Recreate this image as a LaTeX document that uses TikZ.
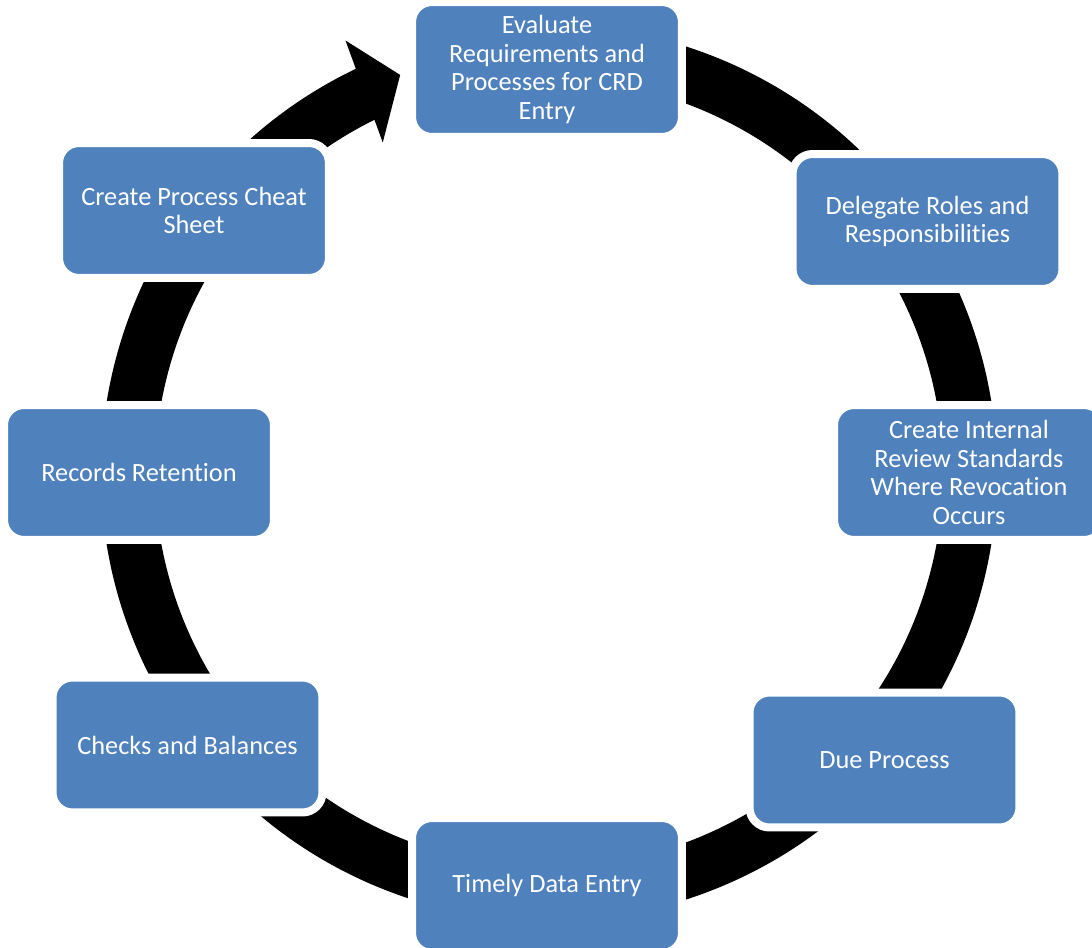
\documentclass[tikz,border=0pt]{standalone}
\usepackage{fontspec}
\setmainfont{Carlito}[Ligatures=NoCommon]
\usepackage{tikz}
\usetikzlibrary{arrows}

\definecolor{boxblue}{HTML}{4F81BD}

\begin{document}
\begin{tikzpicture}[x=0.02cm,y=0.02cm,semithick]
  \tikzstyle{stage}=[rectangle,rounded corners=0.4cm,fill=boxblue,draw=white,
                     line width=0.16cm,minimum width=5.4cm,minimum height=2.7cm,
                     text=white,align=center,font=\fontsize{15}{16.3}\selectfont]
  \tikzstyle{ring}=[line width=1.08cm,black]

  \useasboundingbox (-549,-474) rectangle (543,473);
  \coordinate (hub) at (0,0);

  \draw[ring] ([shift={(115.5:421)}]hub) arc[start angle=115.5,end angle=468,radius=421];
  \fill ([shift={(115.2:478)}]hub) -- ([shift={(116.7:370)}]hub)
        -- ([shift={(110.5:425)}]hub) -- cycle;

  \node[stage] (eval)    at (-2,403.5)    {Evaluate\\Requirements and\\Processes for CRD\\Entry};
  \node[stage] (deleg)   at (378.5,251.5) {Delegate Roles and\\Responsibilities};
  \node[stage] (review)  at (420,0.5)     {Create Internal\\Review Standards\\Where Revocation\\Occurs};
  \node[stage] (dueproc) at (335.5,-287)  {Due Process};
  \node[stage] (timely)  at (-2,-412.5)   {Timely Data Entry};
  \node[stage] (checks)  at (-361.5,-272) {Checks and Balances};
  \node[stage] (records) at (-410,0.5)    {Records Retention};
  \node[stage] (cheat)   at (-355,262.5)  {Create Process Cheat\\Sheet};

\end{tikzpicture}
\end{document}
